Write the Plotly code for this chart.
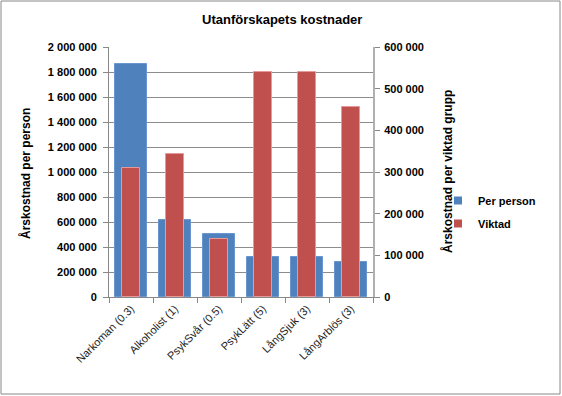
import plotly.graph_objects as go

categories = ["Narkoman (0.3)", "Alkoholist (1)", "PsykSvår (0.5)", "PsykLätt (5)", "LångSjuk (3)", "LångArblös (3)"]
per_person = [1864000, 620000, 505000, 320000, 320000, 277000]
viktad = [310000, 344000, 140000, 539000, 539000, 457000]
left_ticks = list(range(0, 2000001, 200000))
right_ticks = list(range(0, 600001, 100000))

W, H = 562, 396
L, R, T, B = 109, 373, 47, 297
pw, ph = R - L, B - T

FONT = "Liberation Sans"
BLUE, RED = "#4F81BD", "#C0504D"

def fmt(v):
    return f"{v:,}".replace(",", " ")

fig = go.Figure()
fig.add_trace(go.Bar(
    x=categories, y=per_person, name="Per person", yaxis="y", showlegend=False,
    width=0.73, marker=dict(color=BLUE, line=dict(color="#6a97cf", width=1)),
))
fig.add_trace(go.Bar(
    x=categories, y=viktad, name="Viktad", yaxis="y2", showlegend=False,
    width=0.41, marker=dict(color=RED, line=dict(color="#e59a98", width=1)),
))
for nm, col in [("Per person", BLUE), ("Viktad", RED)]:
    fig.add_trace(go.Scatter(
        x=[None], y=[None], mode="markers", name=nm, showlegend=True, legendgroup=nm,
        marker=dict(symbol="square", size=8, color=col),
    ))

fig.update_layout(
    width=W, height=H,
    margin=dict(l=L, r=W - R, t=T, b=H - B, pad=0, autoexpand=False),
    paper_bgcolor="white", plot_bgcolor="white",
    barmode="overlay", bargap=0,
    font=dict(family=FONT, size=11, color="#000000"),
    showlegend=True,
    legend=dict(
        x=(438 - L) / pw, y=(B - 212) / ph, xanchor="left", yanchor="middle",
        font=dict(family=FONT, size=11, color="#000000", weight="bold"),
        itemwidth=30, tracegroupgap=4, bgcolor="rgba(0,0,0,0)",
    ),
    xaxis=dict(
        type="category", tickangle=-45, tickson="boundaries",
        ticks="outside", ticklen=5, tickcolor="#888888",
        showline=True, linecolor="#888888", linewidth=1,
        tickfont=dict(family=FONT, size=11, color="#222222"),
        showgrid=False,
    ),
    yaxis=dict(
        range=[0, 2000000], tickvals=left_ticks, ticktext=[fmt(v) for v in left_ticks],
        ticks="outside", ticklen=5, tickcolor="#888888", ticklabelstandoff=4,
        showline=True, linecolor="#888888", linewidth=1,
        showgrid=True, gridcolor="#8c8c8c", gridwidth=1, zeroline=False,
        tickfont=dict(family=FONT, size=11, color="#000000", weight="bold"),
    ),
    yaxis2=dict(
        range=[0, 600000], tickvals=right_ticks, ticktext=[fmt(v) for v in right_ticks],
        overlaying="y", side="right",
        ticks="outside", ticklen=5, tickcolor="#888888", ticklabelstandoff=2,
        showline=True, linecolor="#b0b0b0", linewidth=2,
        showgrid=False, zeroline=False,
        tickfont=dict(family=FONT, size=11, color="#000000", weight="bold"),
    ),
    annotations=[
        dict(text="<b>Utanförskapets kostnader</b>", xref="paper", yref="paper",
             x=(282 - L) / pw, y=(B - 20) / ph, xanchor="center", yanchor="middle",
             showarrow=False, font=dict(family=FONT, size=13, color="#000000")),
        dict(text="<b>Årskostnad per person</b>", xref="paper", yref="paper",
             x=(25 - L) / pw, y=(B - 174) / ph, xanchor="center", yanchor="middle",
             textangle=-90, showarrow=False, font=dict(family=FONT, size=12, color="#000000")),
        dict(text="<b>Årskostnad per viktad grupp</b>", xref="paper", yref="paper",
             x=(447 - L) / pw, y=(B - 172) / ph, xanchor="center", yanchor="middle",
             textangle=-90, showarrow=False, font=dict(family=FONT, size=12, color="#000000")),
    ],
    shapes=[
        dict(type="rect", xref="paper", yref="paper",
             x0=(1 - L) / pw, x1=(560 - L) / pw, y0=(B - 394) / ph, y1=(B - 1) / ph,
             line=dict(color="#888888", width=1), fillcolor="rgba(0,0,0,0)", layer="below"),
    ],
)

fig.write_html("out.html", config={"displayModeBar": False},
               post_script="document.body.style.margin='0';")
